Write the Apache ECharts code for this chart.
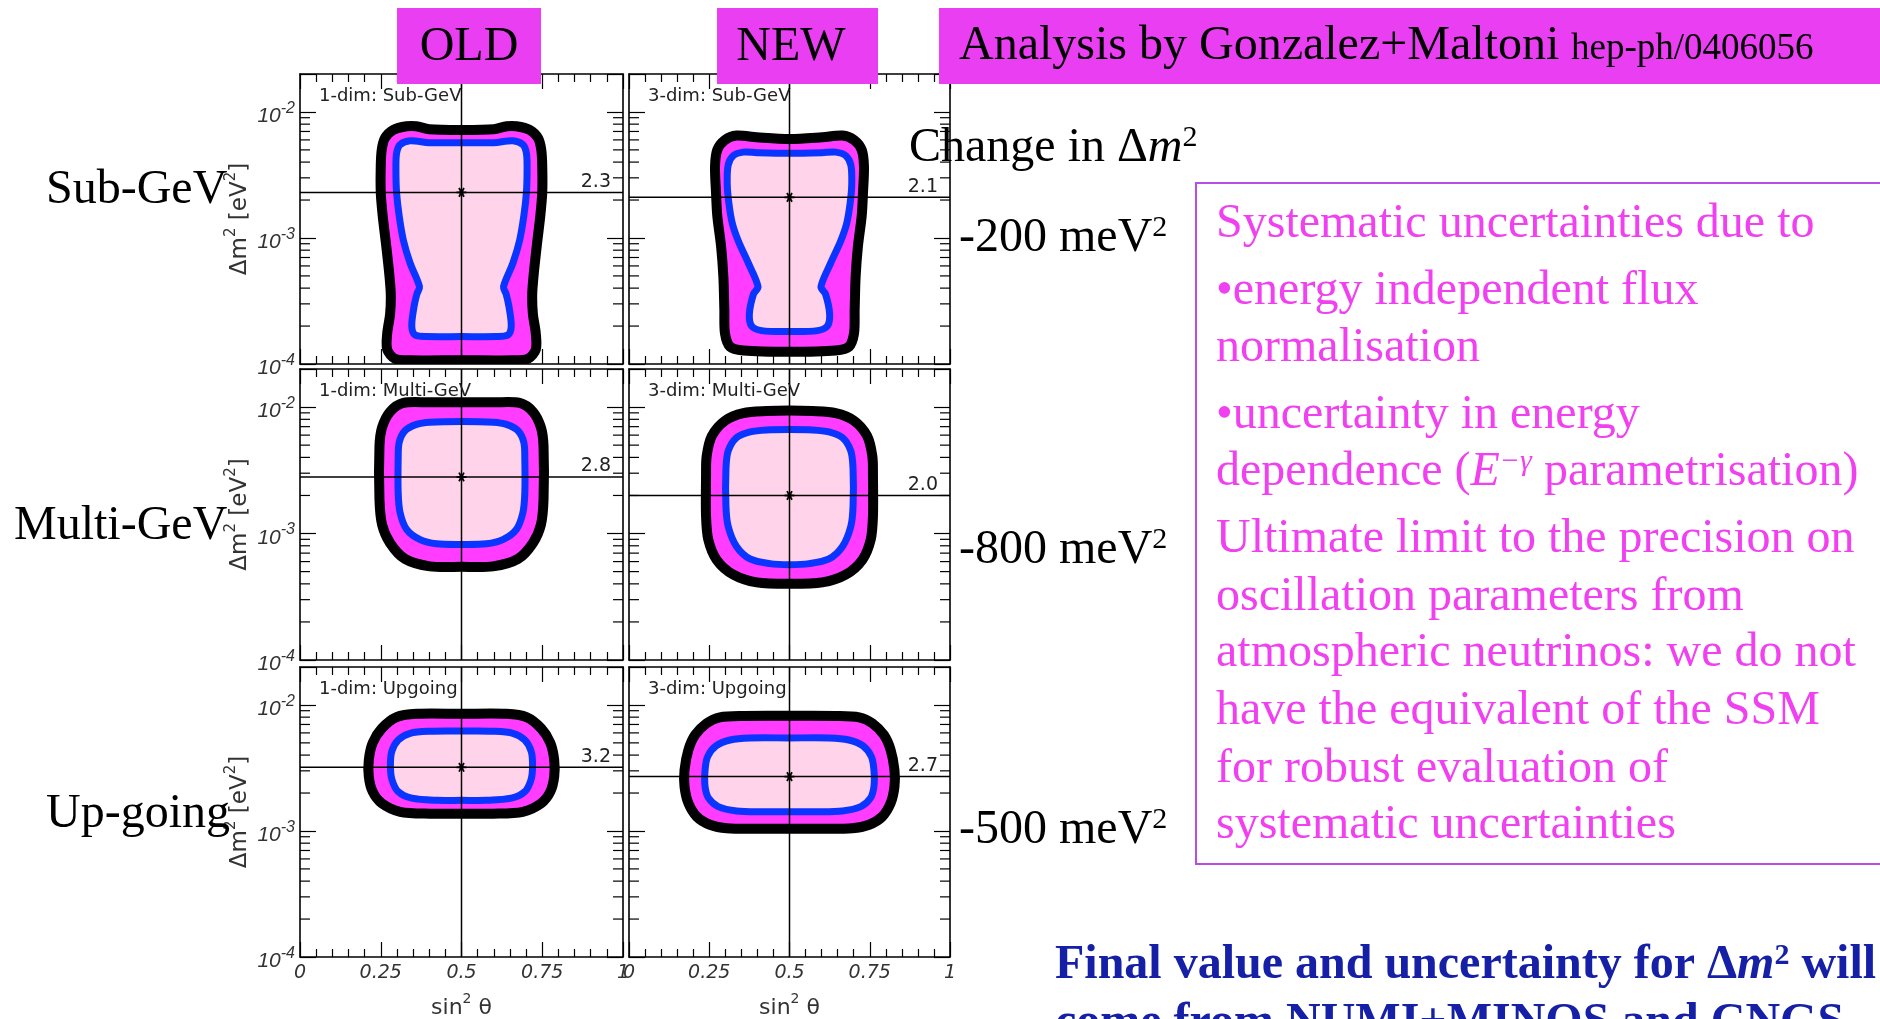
<!DOCTYPE html>
<html><head><meta charset="utf-8">
<script src="https://cdn.jsdelivr.net/npm/echarts@6.0.0/dist/echarts.min.js"></script>
<style>html,body{margin:0;padding:0;background:#fff;overflow:hidden}#c{width:1880px;height:1019px}</style>
</head><body><div id="c"></div>
<script>
// ---------------- data ----------------
const panelTitles = ['1-dim: Sub-GeV','3-dim: Sub-GeV','1-dim: Multi-GeV','3-dim: Multi-GeV','1-dim: Upgoing','3-dim: Upgoing'];
const bestFitSin2 = [0.5,0.5,0.5,0.5,0.5,0.5];
const bestFitDm2 = [2.3e-3,2.1e-3,2.8e-3,2.0e-3,3.2e-3,2.7e-3];
const rowNames = ['Sub-GeV','Multi-GeV','Up-going'];
const dm2Changes = ['-200','-800','-500'];
const xTickLabels = ['0','0.25','0.5','0.75','1'];
const yDecades = [1e-4,1e-3,1e-2];
const minorMantissas = [2,3,4,5,6,7,8,9];

// contours: left half [sin^2 theta, dm^2], from top centre to bottom centre (plot is symmetric about 0.5)
// "outer" = centre of black band (enclosing magenta region), "inner" = centre of blue band (enclosing pink region)
const outerOldSub = [[0.5,7.2e-3],[0.40,7.3e-3],[0.36,7.7e-3],[0.33,7.7e-3],[0.289,7.2e-3],[0.263,6.2e-3],[0.253,5.0e-3],[0.25,3.7e-3],[0.25,2.3e-3],[0.256,1.5e-3],[0.266,9.1e-4],[0.276,5.3e-4],[0.281,3.6e-4],[0.279,2.5e-4],[0.27,1.75e-4],[0.27,1.3e-4],[0.294,1.1e-4],[0.34,1.07e-4],[0.5,1.07e-4]];
const innerOldSub = [[0.5,5.7e-3],[0.40,5.7e-3],[0.341,5.9e-3],[0.31,5.5e-3],[0.299,4.7e-3],[0.297,3.5e-3],[0.299,2.3e-3],[0.307,1.5e-3],[0.32,9.6e-4],[0.341,6.3e-4],[0.370,4.1e-4],[0.362,3.6e-4],[0.353,2.85e-4],[0.346,2.0e-4],[0.356,1.7e-4],[0.392,1.65e-4],[0.5,1.65e-4]];
const outerNewSub = [[0.5,6.1e-3],[0.398,6.3e-3],[0.335,6.5e-3],[0.299,6.0e-3],[0.275,5.0e-3],[0.268,3.7e-3],[0.271,2.3e-3],[0.275,1.5e-3],[0.287,8.5e-4],[0.294,4.9e-4],[0.297,2.7e-4],[0.299,1.75e-4],[0.315,1.37e-4],[0.356,1.28e-4],[0.5,1.25e-4]];
const innerNewSub = [[0.5,4.7e-3],[0.398,4.75e-3],[0.356,4.8e-3],[0.325,4.5e-3],[0.309,3.8e-3],[0.306,2.7e-3],[0.311,1.9e-3],[0.322,1.3e-3],[0.341,9.4e-4],[0.372,6.3e-4],[0.402,4.1e-4],[0.388,3.6e-4],[0.375,2.5e-4],[0.382,2.0e-4],[0.413,1.84e-4],[0.5,1.81e-4]];
const outerOldMulti = [[0.5,1.09e-2],[0.402,1.09e-2],[0.32,1.08e-2],[0.279,9.2e-3],[0.254,6.9e-3],[0.246,4.9e-3],[0.246,1.86e-3],[0.254,1.18e-3],[0.279,8.4e-4],[0.325,6.3e-4],[0.402,5.5e-4],[0.5,5.45e-4]];
const innerOldMulti = [[0.5,7.7e-3],[0.402,7.6e-3],[0.361,7.3e-3],[0.325,6.5e-3],[0.307,5.25e-3],[0.304,3.9e-3],[0.304,2.1e-3],[0.31,1.46e-3],[0.33,1.08e-3],[0.372,8.95e-4],[0.423,8.3e-4],[0.5,8.2e-4]];
const outerNewMulti = [[0.5,9.4e-3],[0.429,9.3e-3],[0.356,8.95e-3],[0.299,7.8e-3],[0.258,5.9e-3],[0.242,4.1e-3],[0.24,2.85e-3],[0.24,1.37e-3],[0.247,8.95e-4],[0.273,6.2e-4],[0.325,4.73e-4],[0.398,4.11e-4],[0.5,4.0e-4]];
const innerNewMulti = [[0.5,6.65e-3],[0.429,6.6e-3],[0.377,6.37e-3],[0.335,5.74e-3],[0.309,4.5e-3],[0.302,3.22e-3],[0.302,1.65e-3],[0.309,1.14e-3],[0.335,7.9e-4],[0.377,6.3e-4],[0.439,5.78e-4],[0.5,5.67e-4]];
const outerOldUp = [[0.5,8.5e-3],[0.361,8.5e-3],[0.299,8.0e-3],[0.253,6.5e-3],[0.225,5.0e-3],[0.213,3.66e-3],[0.213,2.7e-3],[0.225,2.05e-3],[0.253,1.66e-3],[0.31,1.42e-3],[0.402,1.37e-3],[0.5,1.37e-3]];
const innerOldUp = [[0.5,6.2e-3],[0.402,6.18e-3],[0.341,5.96e-3],[0.304,5.27e-3],[0.284,4.26e-3],[0.28,3.24e-3],[0.285,2.54e-3],[0.304,2.05e-3],[0.346,1.82e-3],[0.423,1.75e-3],[0.5,1.75e-3]];
const outerNewUp = [[0.5,8.2e-3],[0.356,8.18e-3],[0.283,7.98e-3],[0.242,7.16e-3],[0.206,5.78e-3],[0.185,4.4e-3],[0.173,3.05e-3],[0.173,2.25e-3],[0.185,1.66e-3],[0.211,1.3e-3],[0.252,1.12e-3],[0.304,1.05e-3],[0.408,1.04e-3],[0.5,1.04e-3]];
const innerNewUp = [[0.5,5.47e-3],[0.377,5.47e-3],[0.315,5.27e-3],[0.271,4.73e-3],[0.245,3.89e-3],[0.237,3.05e-3],[0.237,2.25e-3],[0.248,1.82e-3],[0.278,1.56e-3],[0.335,1.44e-3],[0.418,1.42e-3],[0.5,1.42e-3]];

const noteLines = ['Systematic uncertainties due to','•energy independent flux','normalisation','•uncertainty in energy',
  '{n|dependence (}{i|E}{s|−γ}{n| parametrisation)}','Ultimate limit to the precision on','oscillation parameters from',
  'atmospheric neutrinos: we do not','have the equivalent of the SSM','for robust evaluation of','systematic uncertainties'];

// ---------------- layout / style ----------------
const colX = [300, 629], colW = [323, 321];
const rowY = [74, 369, 667], rowH = [290, 291, 290];
const noteY = [224, 291, 348, 415, 472, 539, 597, 653, 711, 769, 825];
const rowNameX = [46, 14, 46], rowNameY = [190, 526, 814];
const changeY = [238, 550, 830];
const SERIF = '"Liberation Serif","Times New Roman",serif';
const SANS = '"DejaVu Sans",sans-serif';
const LSANS = '"Liberation Sans",sans-serif';
const MAG_BOX = '#E93EF1', MAG = '#FF3CFF', PINK = '#FFD3E9', BLUE = '#0A34FF', NOTE = '#F040F0';

const contourSets = [[outerOldSub,innerOldSub],[outerNewSub,innerNewSub],[outerOldMulti,innerOldMulti],
  [outerNewMulti,innerNewMulti],[outerOldUp,innerOldUp],[outerNewUp,innerNewUp]];

function ring(half){
  const right = half.slice(1,-1).reverse().map(p => [1 - p[0], p[1]]);
  return half.concat(right);
}
const minorVals = [];
yDecades.forEach(d => minorMantissas.forEach(m => { const v = m * d; if (v < 0.0199) minorVals.push(v); }));

const grids = [], xAxes = [], yAxes = [], series = [];
const lineBlack = {color:'#000', width:1.6};
const tickBlack = {color:'#000', width:1.2};

for (let i = 0; i < 6; i++) {
  const col = i % 2, row = Math.floor(i / 2), bottomRow = row === 2;
  grids.push({left: colX[col], top: rowY[row], width: colW[col], height: rowH[row], containLabel:false, outerBoundsMode:'none'});
  const xb = {type:'value', gridIndex:i, min:0, max:1, interval:0.25, z:10,
    axisLine:{show:true, onZero:false, lineStyle:lineBlack},
    axisTick:{show:true, inside:true, length:15, lineStyle:tickBlack},
    minorTick:{show:true, splitNumber:5, length:8, lineStyle:tickBlack},
    splitLine:{show:false}};
  xAxes.push(Object.assign({}, xb, {position:'bottom',
    axisLabel:{show:bottomRow, margin:7, fontFamily:SANS, fontStyle:'italic', fontSize:19, color:'#333',
      formatter: v => xTickLabels[Math.round(v / 0.25)]},
    name: bottomRow ? '{a|sin}{s|2}{a| θ}' : '', nameLocation:'middle', nameGap:35,
    nameTextStyle:{rich:{a:{fontSize:22, fontFamily:SANS, color:'#333', lineHeight:32},
      s:{fontSize:14, fontFamily:SANS, color:'#333', lineHeight:14, verticalAlign:'top'}}}}));
  xAxes.push(Object.assign({}, xb, {position:'top', axisLabel:{show:false}}));
  const yb = {type:'log', logBase:10, gridIndex:i, min:1e-4, max:2e-2, z:10,
    axisLine:{show:true, onZero:false, lineStyle:lineBlack},
    axisTick:{show:true, inside:true, length:16, lineStyle:tickBlack},
    splitLine:{show:false}, minorTick:{show:false}};
  yAxes.push(Object.assign({}, yb, {position:'left',
    axisLabel:{show: col === 0, margin:5, padding:[9,0,0,0],
      formatter: v => { const e = Math.log10(v), r = Math.round(e); return Math.abs(e - r) > 1e-6 ? '' : '{b|10}{e|' + r + '}'; },
      rich:{b:{fontSize:21, fontStyle:'italic', fontFamily:LSANS, color:'#333', lineHeight:32},
        e:{fontSize:16, fontStyle:'italic', fontFamily:LSANS, color:'#333', lineHeight:16, verticalAlign:'top'}}},
    name: col === 0 ? '{a|Δm}{s|2}{a| [eV}{s|2}{a|]}' : '', nameLocation:'middle', nameRotate:90, nameGap:44,
    nameTextStyle:{rich:{a:{fontSize:23, fontFamily:SANS, color:'#333', lineHeight:32},
      s:{fontSize:15, fontFamily:SANS, color:'#333', lineHeight:15, verticalAlign:'top'}}}}));
  yAxes.push(Object.assign({}, yb, {position:'right', axisLabel:{show:false}}));

  const [outer, inner] = contourSets[i];
  const poly = (pts, fill, stroke, lw) => ({type:'custom', xAxisIndex:2*i, yAxisIndex:2*i, data:pts, clip:true, silent:true, z:2,
    renderItem:(params, api) => {
      if (params.dataIndex !== 0) return null;
      return {type:'polygon', shape:{points: pts.map(p => api.coord(p)), smooth:0.3},
        style:{fill:fill, stroke:stroke, lineWidth:lw, lineJoin:'round'}};
    }});
  series.push(poly(ring(outer), MAG, '#000', 10));
  series.push(poly(ring(inner), PINK, BLUE, 7));
  // minor log ticks (both sides)
  series.push({type:'custom', xAxisIndex:2*i, yAxisIndex:2*i, silent:true, z:10, clip:false,
    data: minorVals.map(v => [0.5, v]),
    renderItem:(params, api) => {
      const cs = params.coordSys, y = api.coord([0.5, api.value(1)])[1];
      return {type:'group', children:[
        {type:'line', shape:{x1:cs.x, y1:y, x2:cs.x+10, y2:y}, style:{stroke:'#000', lineWidth:1.2}},
        {type:'line', shape:{x1:cs.x+cs.width-10, y1:y, x2:cs.x+cs.width, y2:y}, style:{stroke:'#000', lineWidth:1.2}}]};
    }});
  // best-fit crosshair, marker, value label and panel title
  series.push({type:'custom', xAxisIndex:2*i, yAxisIndex:2*i, silent:true, z:5, clip:false,
    data:[[bestFitSin2[i], bestFitDm2[i]]],
    renderItem:(params, api) => {
      const cs = params.coordSys, c = api.coord([api.value(0), api.value(1)]);
      const ls = {stroke:'#000', lineWidth:1.5};
      const r = 5, k = [];
      [0, 60, 120].forEach(a => { const t = a*Math.PI/180;
        k.push({type:'line', shape:{x1:c[0]-r*Math.cos(t), y1:c[1]-r*Math.sin(t), x2:c[0]+r*Math.cos(t), y2:c[1]+r*Math.sin(t)}, style:{stroke:'#000', lineWidth:1.8}}); });
      return {type:'group', children:[
        {type:'line', shape:{x1:c[0], y1:cs.y, x2:c[0], y2:cs.y+cs.height}, style:ls},
        {type:'line', shape:{x1:cs.x, y1:c[1], x2:cs.x+cs.width, y2:c[1]}, style:ls},
        {type:'circle', shape:{cx:c[0], cy:c[1], r:2.2}, style:{fill:'#000'}},
        ...k,
        {type:'text', style:{text:(api.value(1)*1000).toFixed(1), x:cs.x+cs.width-12, y:c[1]-1, align:'right', verticalAlign:'bottom',
          textAlign:'right', textVerticalAlign:'bottom', fill:'#222', fontSize:19, fontFamily:SANS}},
        {type:'text', style:{text:panelTitles[i], x:cs.x+19, y:cs.y+22, align:'left', verticalAlign:'middle',
          textAlign:'left', textVerticalAlign:'middle', fill:'#222', fontSize:18, fontFamily:SANS}}]};
    }});
}

// ---------------- slide graphics ----------------
const g = [];
function txt(x, y, text, extra){
  const st = Object.assign({text:text, fontSize:48, fontFamily:SERIF, fill:'#000', align:'left', verticalAlign:'middle',
    textAlign:'left', textVerticalAlign:'middle'}, extra || {});
  g.push({type:'text', x:x, y:y, z:101, style:st});
}
g.push({type:'rect', z:100, shape:{x:397, y:8, width:144, height:76}, style:{fill:MAG_BOX}});
g.push({type:'rect', z:100, shape:{x:717, y:8, width:161, height:76}, style:{fill:MAG_BOX}});
g.push({type:'rect', z:100, shape:{x:939, y:8, width:945, height:76}, style:{fill:MAG_BOX}});
txt(469, 47, 'OLD', {align:'center', textAlign:'center'});
txt(791, 47, 'NEW', {align:'center', textAlign:'center'});
txt(959, 46, 'Analysis by Gonzalez+Maltoni');
txt(1571, 49.5, 'hep-ph/0406056', {fontSize:37});
rowNames.forEach((n, r) => txt(rowNameX[r], rowNameY[r], n));
const supRich = (fill, weight) => ({
  a:{fontSize:48, fontFamily:SERIF, fill:fill, fontWeight:weight, lineHeight:50},
  i:{fontSize:48, fontFamily:SERIF, fill:fill, fontWeight:weight, fontStyle:'italic', lineHeight:50},
  s:{fontSize:30, fontFamily:SERIF, fill:fill, fontWeight:weight, lineHeight:30, verticalAlign:'top'}});
txt(909, 148, '{a|Change in Δ}{i|m}{s|2}', {rich: supRich('#000','normal')});
dm2Changes.forEach((c, r) => txt(959, changeY[r], '{a|' + c + ' meV}{s|2}', {rich: supRich('#000','normal')}));
g.push({type:'rect', z:99, shape:{x:1196, y:183, width:700, height:681}, style:{fill:'#fff', stroke:'#B84EE6', lineWidth:2}});
noteLines.forEach((l, k) => txt(1216, noteY[k], l, {fill:NOTE, rich:{
  n:{fontSize:48, fontFamily:SERIF, fill:NOTE, lineHeight:50},
  i:{fontSize:48, fontFamily:SERIF, fill:NOTE, fontStyle:'italic', lineHeight:50},
  s:{fontSize:30, fontFamily:SERIF, fill:NOTE, fontStyle:'italic', lineHeight:30, verticalAlign:'top'}}}));
const DB = '#1520A6';
txt(1055, 966, '{a|Final value and uncertainty for Δ}{i|m}{s|2}{a| will}', {fill:DB, fontWeight:'bold', rich: supRich(DB,'bold')});
txt(1055, 1024, 'come from NUMI+MINOS and CNGS', {fill:DB, fontWeight:'bold'});

const chart = echarts.init(document.getElementById('c'), null, {renderer:'canvas'});
chart.setOption({animation:false, backgroundColor:'#fff', grid:grids, xAxis:xAxes, yAxis:yAxes, series:series, graphic:g});
</script></body></html>
